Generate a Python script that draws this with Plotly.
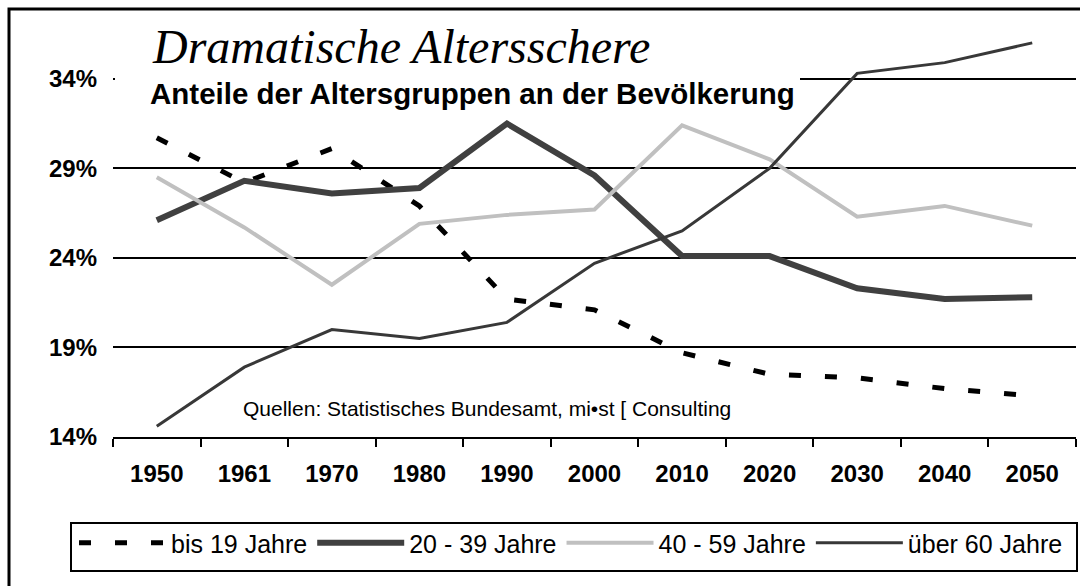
import plotly.graph_objects as go

years = ["1950", "1961", "1970", "1980", "1990", "2000", "2010", "2020", "2030", "2040", "2050"]
bis19 = [30.7, 28.2, 30.1, 26.9, 21.7, 21.1, 18.7, 17.5, 17.3, 16.7, 16.3]
j20_39 = [26.1, 28.3, 27.6, 27.9, 31.5, 28.6, 24.1, 24.1, 22.3, 21.7, 21.8]
j40_59 = [28.5, 25.7, 22.5, 25.9, 26.4, 26.7, 31.4, 29.5, 26.3, 26.9, 25.8]
ueber60 = [14.6, 17.9, 20.0, 19.5, 20.4, 23.7, 25.5, 29.0, 34.3, 34.9, 36.0]
yticks = [14, 19, 24, 29, 34]
yticktext = ["14%", "19%", "24%", "29%", "34%"]
names = ["bis 19 Jahre", "20 - 39 Jahre", "40 - 59 Jahre", "über 60 Jahre"]

W, H = 1080, 586
ML, MR, MT, MB = 113, 4, 25, 149
PW, PH = W - ML - MR, H - MT - MB


def px(x):
    return (x - ML) / PW


def py(y):
    return (H - MB - y) / PH


fig = go.Figure()
fig.add_trace(go.Scatter(x=years, y=bis19, name=names[0], mode="lines",
                         line=dict(color="black", width=5, dash="12px,24px")))
fig.add_trace(go.Scatter(x=years, y=j20_39, name=names[1], mode="lines",
                         line=dict(color="#404040", width=6)))
fig.add_trace(go.Scatter(x=years, y=j40_59, name=names[2], mode="lines",
                         line=dict(color="#C0C0C0", width=4)))
fig.add_trace(go.Scatter(x=years, y=ueber60, name=names[3], mode="lines",
                         line=dict(color="#383838", width=3)))

fig.update_layout(
    width=W, height=H,
    margin=dict(l=ML, r=MR, t=MT, b=MB, autoexpand=False),
    paper_bgcolor="white", plot_bgcolor="white",
    font=dict(family="Liberation Sans, Arial", color="black"),
    xaxis=dict(type="category", range=[-0.5, 10.5], showgrid=False, zeroline=False,
               showline=True, linecolor="black", linewidth=2,
               ticks="outside", ticklen=8, tickwidth=2, tickcolor="black",
               tickson="boundaries", ticklabelstandoff=14,
               tickfont=dict(family="Liberation Sans, Arial", size=24, color="black",
                             weight="bold")),
    yaxis=dict(range=[14, 37], tickvals=yticks, ticktext=yticktext,
               showgrid=True, gridcolor="black", gridwidth=1.5, zeroline=False,
               showline=False, ticks="", ticklabelstandoff=15,
               tickfont=dict(family="Liberation Sans, Arial", size=24, color="black",
                             weight="bold")),
    showlegend=True,
    legend=dict(orientation="h", x=px(74), y=py(520), xanchor="left", yanchor="top",
                borderwidth=0, bgcolor="rgba(0,0,0,0)",
                itemwidth=87,
                font=dict(family="Liberation Sans, Arial", size=25, color="black"),
                tracegroupgap=0, traceorder="normal"),
)

shapes = [
    # white box behind title (hides gridline)
    dict(type="rect", xref="paper", yref="paper", x0=px(115), x1=px(800), y0=py(92), y1=py(68),
         fillcolor="white", line=dict(width=0), layer="above"),
    # vertical marker at 2000
    dict(type="line", xref="x", yref="paper", x0="2000", x1="2000", y0=py(445), y1=py(115),
         line=dict(color="black", width=1.5), layer="above"),
    # legend frame
    dict(type="rect", xref="paper", yref="paper", x0=px(71), x1=px(1077), y0=py(571), y1=py(523),
         line=dict(color="black", width=2), fillcolor="rgba(0,0,0,0)", layer="above"),
    # outer frame
    dict(type="rect", xref="paper", yref="paper", x0=px(9), x1=px(1090), y0=py(9), y1=py(600),
         line=dict(color="black", width=3), fillcolor="rgba(0,0,0,0)", layer="above"),
]
fig.update_layout(shapes=shapes)

fig.add_annotation(text="Dramatische Altersschere", xref="paper", yref="paper",
                   x=px(150), y=py(47), xanchor="left", yanchor="middle", showarrow=False,
                   font=dict(family="Liberation Serif, Times New Roman", size=48,
                             style="italic", color="black"))
fig.add_annotation(text="<b>Anteile der Altersgruppen an der Bevölkerung</b>", xref="paper",
                   yref="paper", x=px(148), y=py(93), xanchor="left", yanchor="middle",
                   showarrow=False,
                   font=dict(family="Liberation Sans, Arial", size=29.5, color="black"))
fig.add_annotation(text="Quellen: Statistisches Bundesamt, mi•st [ Consulting", xref="paper",
                   yref="paper", x=px(487), y=py(408), xanchor="center", yanchor="middle",
                   showarrow=False, bgcolor="white", borderpad=9,
                   font=dict(family="Liberation Sans, Arial", size=21, color="black"))

fig.write_html("out.html", config={"displayModeBar": False},
               post_script="document.body.style.margin='0';document.body.style.overflow='hidden';")
